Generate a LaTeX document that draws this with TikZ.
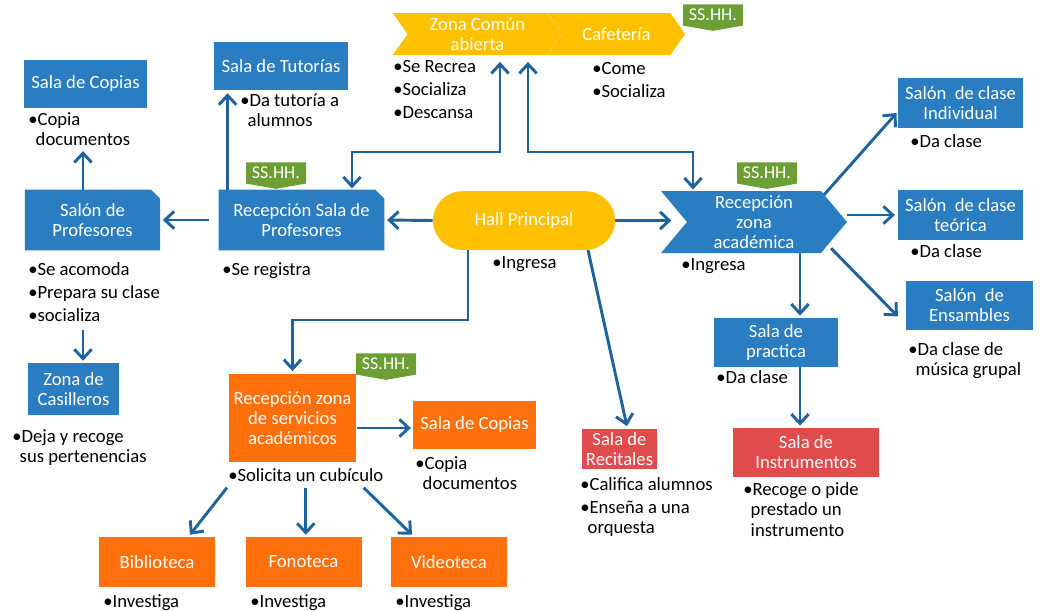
\documentclass[tikz,border=0pt]{standalone}
\usepackage{fontspec}
\setmainfont{Carlito}
\usetikzlibrary{arrows.meta,shapes.symbols,calc,backgrounds}

\definecolor{azul}{RGB}{41,125,192}
\definecolor{amarillo}{RGB}{255,192,0}
\definecolor{naranja}{RGB}{255,112,12}
\definecolor{rojo}{RGB}{224,76,76}
\definecolor{verde}{RGB}{108,158,52}
\definecolor{azulflecha}{RGB}{30,98,158}

\newcommand{\letracaja}{\fontsize{14}{15}\selectfont}
\newcommand{\letranota}{\fontsize{14}{15.4}\selectfont}
\newcommand{\letrasshh}{\fontsize{13.5}{14}\selectfont}
\newcommand{\sangria}{\hspace*{0.4em}}
% caja con la esquina superior derecha cortada
\newcommand{\esquinacortada}[1]{%
  \begin{pgfonlayer}{background}
    \fill[azul] (#1.south west) -- (#1.north west) -- ($(#1.north east)+(-9,0)$)
      -- ($(#1.north east)+(0,9)$) -- (#1.south east) -- cycle;
  \end{pgfonlayer}}

\tikzset{
  caja/.style={fill=#1, text=white, align=center, inner sep=0pt, font=\letracaja},
  cajacortada/.style={text=white, align=center, inner sep=0pt, font=\letracaja},
  chevron/.style={caja=#1, shape=signal, signal from=west, signal to=east},
  sshh/.style={caja=verde, shape=signal, signal to=south, signal pointer angle=160,
    minimum width=45pt, minimum height=19pt, font=\letrasshh},
  nota/.style={anchor=north west, align=left, inner sep=0pt, font=\letranota},
  flecha/.style={draw=azulflecha, line width=2.2pt, -{Straight Barb[length=7pt,width=13pt]}},
  dobleflecha/.style={draw=azulflecha, line width=2.2pt,
    {Straight Barb[length=7pt,width=13pt]}-{Straight Barb[length=7pt,width=13pt]}},
}

\begin{document}
\begin{tikzpicture}[x=0.75pt,y=0.75pt,yscale=-1,xscale=1]
\useasboundingbox (0,0) rectangle (1040,611);

%Shapes: zona de profesores
\node[caja=azul, minimum width=92pt, minimum height=36pt] (copiasProf) at (85.5,84) {Sala de Copias};
\node[caja=azul, minimum width=101pt, minimum height=36pt] (tutorias) at (281,66) {Sala de Tutorías};
\node[cajacortada, minimum width=101pt, minimum height=45pt] (salonProf) at (92.5,220) {Salón de\\Profesores};
\esquinacortada{salonProf}
\node[cajacortada, minimum width=124pt, minimum height=45pt] (recepProf) at (301.5,220) {Recepción Sala de\\Profesores};
\esquinacortada{recepProf}
\node[caja=azul, minimum width=68pt, minimum height=39pt] (casilleros) at (73.5,389) {Zona de\\Casilleros};

%Shapes: hall y zona comun
\node[caja=amarillo, rounded corners=22pt, minimum width=136.5pt, minimum height=44pt] (hall) at (524,220.5) {Hall Principal};
\node[chevron=amarillo, signal pointer angle=110, minimum width=127pt, minimum height=31.5pt] (zonaComun) at (477.5,34) {Zona Común\\abierta};
\node[chevron=amarillo, signal pointer angle=110, minimum width=103pt, minimum height=31.5pt] (cafeteria) at (616.5,34) {Cafetería};

%Shapes: zona academica
\node[chevron=azul, signal pointer angle=100, minimum width=139.5pt, minimum height=46.5pt] (recepAcad) at (754,222) {Recepción\\zona\\académica};
\node[caja=azul, minimum width=94pt, minimum height=37.5pt] (salonIndiv) at (960.5,103) {Salón~ de clase\\Individual};
\node[caja=azul, minimum width=94pt, minimum height=37.5pt] (salonTeor) at (960.5,215) {Salón~ de clase\\teórica};
\node[caja=azul, minimum width=95pt, minimum height=37pt] (ensambles) at (969.5,305.5) {Salón~ de\\Ensambles};
\node[caja=azul, minimum width=93pt, minimum height=37pt] (practica) at (776,342.5) {Sala de\\practica};
\node[caja=rojo, minimum width=109.5pt, minimum height=37pt] (instrumentos) at (806,452.5) {Sala de\\Instrumentos};
\node[caja=rojo, minimum width=56pt, minimum height=30pt] (recitales) at (619.5,449) {Sala de\\Recitales};

%Shapes: servicios academicos
\node[caja=naranja, minimum width=95pt, minimum height=66pt] (recepServ) at (292.5,418) {Recepción zona\\de servicios\\académicos};
\node[caja=naranja, minimum width=92pt, minimum height=36pt] (copiasServ) at (474.5,425) {Sala de Copias};
\node[caja=naranja, minimum width=87pt, minimum height=37.5pt] (biblioteca) at (157,562) {Biblioteca};
\node[caja=naranja, minimum width=87pt, minimum height=37.5pt] (fonoteca) at (303.5,562) {Fonoteca};
\node[caja=naranja, minimum width=87pt, minimum height=37.5pt] (videoteca) at (449,562) {Videoteca};

%Shapes: SS.HH.
\node[sshh] (sshhProf) at (276,173) {SS.HH.};
\node[sshh] (sshhAcad) at (767,173) {SS.HH.};
\node[sshh] (sshhCafe) at (713,15) {SS.HH.};
\node[sshh] (sshhServ) at (386,364) {SS.HH.};

% Text Node
\node[nota] (notaCopiasProf) at (28,112) {\textbullet Copia\\\sangria documentos};
\node[nota] (notaTutorias) at (240,93) {\textbullet Da tutoría a\\\sangria alumnos};
\node[nota] (notaSalonProf) at (28,262) {\textbullet Se acomoda\\[1.9pt]\textbullet Prepara su clase\\[1.9pt]\textbullet socializa};
\node[nota] (notaRecepProf) at (222,262) {\textbullet Se registra};
\node[nota] (notaCasilleros) at (12,429) {\textbullet Deja y recoge\\\sangria sus pertenencias};
% Text Node
\node[nota] (notaZona) at (393,60) {\textbullet Se Recrea\\[1.9pt]\textbullet Socializa\\[1.9pt]\textbullet Descansa};
\node[nota] (notaCafe) at (592,62) {\textbullet Come\\[1.9pt]\textbullet Socializa};
\node[nota] (notaHall) at (492,256) {\textbullet Ingresa};
% Text Node
\node[nota] (notaAcad) at (681,258) {\textbullet Ingresa};
\node[nota] (notaIndiv) at (910,134) {\textbullet Da clase};
\node[nota] (notaTeor) at (910,244) {\textbullet Da clase};
\node[nota] (notaEnsambles) at (908,342) {\textbullet Da clase de\\\sangria música grupal};
\node[nota] (notaPractica) at (716,370) {\textbullet Da clase};
\node[nota] (notaInstr) at (743,482) {\textbullet Recoge o pide\\\sangria prestado un\\\sangria instrumento};
\node[nota] (notaRecitales) at (580,477) {\textbullet Califica alumnos\\[1.9pt]\textbullet Enseña a una\\\sangria orquesta};
% Text Node
\node[nota] (notaServ) at (228,468) {\textbullet Solicita un cubículo};
\node[nota] (notaCopiasServ) at (415,456) {\textbullet Copia\\\sangria documentos};
\node[nota] (notaBib) at (103,594) {\textbullet Investiga};
\node[nota] (notaFon) at (250,594) {\textbullet Investiga};
\node[nota] (notaVid) at (395,594) {\textbullet Investiga};

% codos de las flechas
\coordinate (codoProf) at (352,152);
\coordinate (codoAcad) at (693,152);
\coordinate (codoServ) at (468,320);

%Straight Lines: profesores
\draw[flecha, shorten >=2pt] (hall.west) -- (recepProf.east);
\draw[flecha, shorten <=7pt, shorten >=2pt] (recepProf.west) -- (salonProf.east);
\draw[flecha] ($(salonProf.north)+(-9.5,0)$) -- ($(salonProf.north |- notaCopiasProf.south)+(-9.5,5)$);
\draw[flecha] ($(salonProf.south |- notaSalonProf.south)+(-9.5,8)$) -- ($(salonProf.south |- casilleros.north)+(-9.5,-2)$);
\draw[flecha] ($(recepProf.north west)+(9,0)$) -- ($(recepProf.north west |- tutorias.south)+(9,3)$);
\draw[dobleflecha, shorten <=5pt, shorten >=1pt] ($(zonaComun.south)+(22.5,0)$) |- (codoProf) -- (recepProf.north -| codoProf);

%Straight Lines: zona academica
\draw[dobleflecha, shorten <=5pt, shorten >=1pt] ($(zonaComun.south)+(50.5,0)$) |- (codoAcad) -- (recepAcad.north -| codoAcad);
\draw[flecha] (hall.east) -- ($(recepAcad.north west |- hall.east)+(11,0)$);
\draw[flecha] ($(recepAcad.north east)+(3,4)$) -- ($(salonIndiv.west)+(-1,10)$);
\draw[flecha, shorten >=2pt] (recepAcad.east |- salonTeor.west) -- (salonTeor.west);
\draw[flecha] ($(recepAcad.south east)+(10,-5)$) -- ($(ensambles.west)+(-8,11)$);
\draw[flecha] ($(practica.north |- recepAcad.south)+(24,0)$) -- ($(practica.north)+(24,-2)$);
\draw[flecha] ($(practica.south)+(24,0)$) -- ($(practica.south |- instrumentos.north)+(24,-2)$);
\draw[flecha, shorten >=2pt] ($(hall.south)+(64,0)$) -- ($(recitales.north)+(8,0)$);

%Straight Lines: servicios
\draw[flecha, shorten >=2pt] (hall.south -| codoServ) -- (codoServ) -| (recepServ.north);
\draw[flecha] ($(recepServ.east |- copiasServ.west)+(1,3)$) -- ($(copiasServ.west)+(-2,3)$);
\draw[flecha] ($(notaServ.south west)+(-1,6)$) -- ($(biblioteca.north)+(33,-2)$);
\draw[flecha] ($(notaServ.south)+(0,6)$) -- ($(notaServ.south |- fonoteca.north)+(0,-2)$);
\draw[flecha] ($(notaServ.south east)+(-20,6)$) -- ($(videoteca.north)+(-37,-2)$);

\end{tikzpicture}
\end{document}
